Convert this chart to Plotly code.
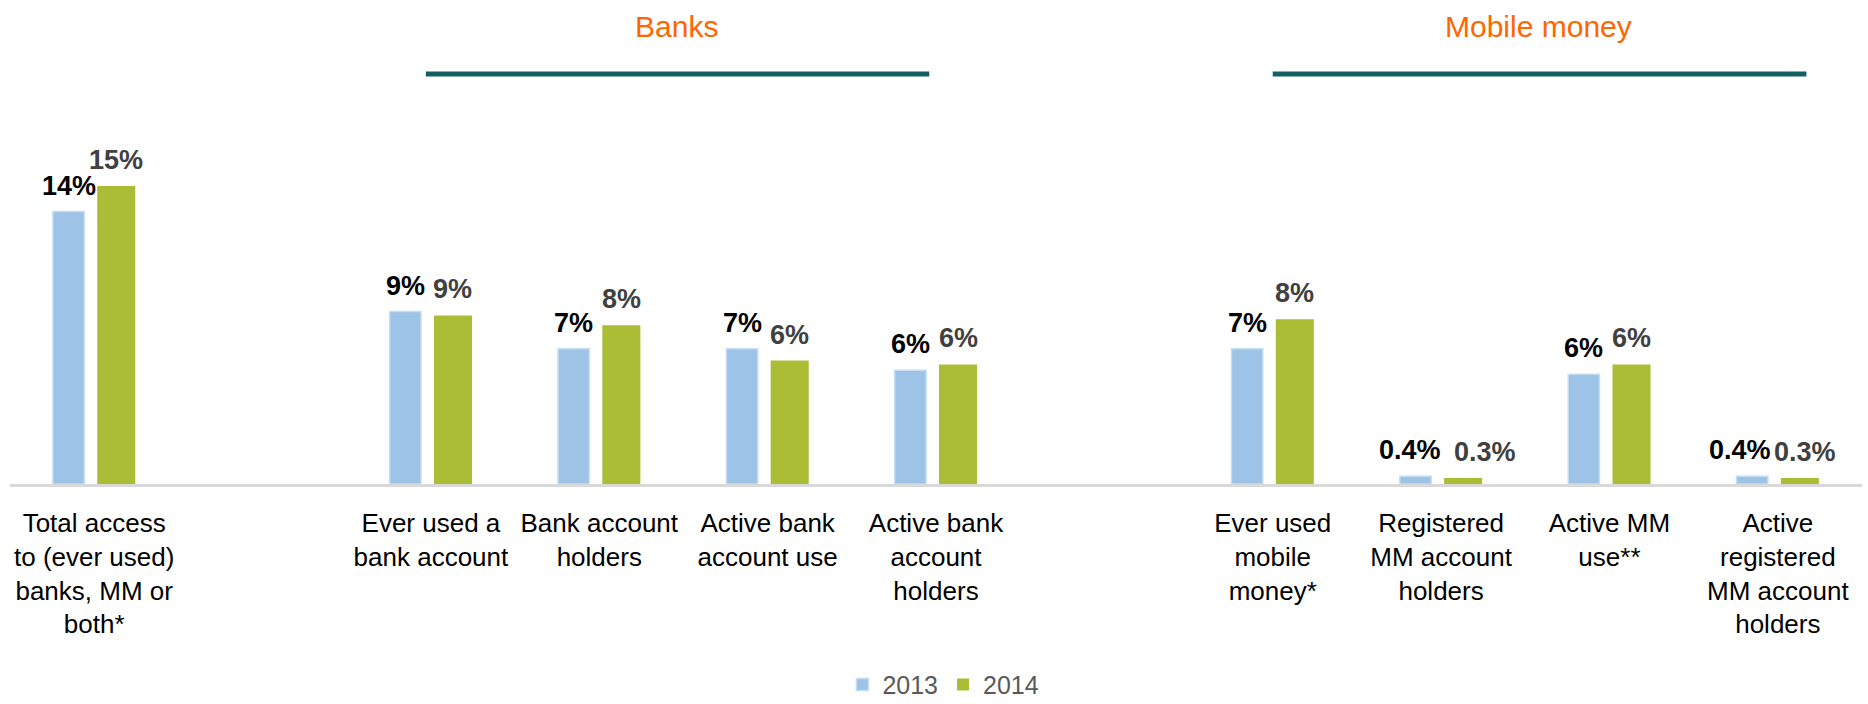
import plotly.graph_objects as go

# Categories (slot index on the x axis; empty slots separate the groups)
categories = [
    "Total access<br>to (ever used)<br>banks, MM or<br>both*",
    "Ever used a<br>bank account",
    "Bank account<br>holders",
    "Active bank<br>account use",
    "Active bank<br>account<br>holders",
    "Ever used<br>mobile<br>money*",
    "Registered<br>MM account<br>holders",
    "Active MM<br>use**",
    "Active<br>registered<br>MM account<br>holders",
]
slots = [0, 2, 3, 4, 5, 7, 8, 9, 10]

# Share of adults (%)
values_2013 = [13.9, 8.8, 6.9, 6.9, 5.8, 6.9, 0.4, 5.6, 0.4]
values_2014 = [15.2, 8.6, 8.1, 6.3, 6.1, 8.4, 0.3, 6.1, 0.3]

series_names = ["2013", "2014"]
group_titles = ["Banks", "Mobile money"]

FONT = "Liberation Sans, Arial, sans-serif"
C2013 = "#9DC3E6"
C2014 = "#AABD35"

W13, OFF13 = 0.186, -0.245
W14, OFF14 = 0.226, 0.018


def fmt(v):
    return f"{v:.1f}%" if v < 1 else f"{v:.0f}%"


fig = go.Figure()
fig.add_trace(go.Bar(
    x=slots, y=values_2013, name=series_names[0],
    width=W13, offset=OFF13,
    marker=dict(color=C2013, line=dict(color="#C6DCF2", width=1.5)),
))
fig.add_trace(go.Bar(
    x=slots, y=values_2014, name=series_names[1],
    width=W14, offset=OFF14,
    marker=dict(color=C2014, line=dict(width=0)),
))

# Value labels above the bars; the tiny bars get nudged apart so labels don't collide
nudge_2013 = {8: -6, 10: -12}
nudge_2014 = {8: 22, 10: 5}
annotations = []
for s, v13, v14 in zip(slots, values_2013, values_2014):
    annotations.append(dict(
        x=s + OFF13 + W13 / 2, y=v13, xref="x", yref="y",
        text=fmt(v13), showarrow=False, yanchor="bottom", yshift=9,
        xshift=nudge_2013.get(s, 0),
        font=dict(family=FONT, size=27, color="#000000", weight="bold"),
    ))
    annotations.append(dict(
        x=s + OFF14 + W14 / 2, y=v14, xref="x", yref="y",
        text=fmt(v14), showarrow=False, yanchor="bottom", yshift=9,
        xshift=nudge_2014.get(s, 0),
        font=dict(family=FONT, size=27, color="#404040", weight="bold"),
    ))

# Group headers with underline bars
header_y = 1.168
rule_y = 1.046
for title, xc, x0, x1 in [(group_titles[0], 3.46, 1.97, 4.96),
                          (group_titles[1], 8.58, 7.0, 10.17)]:
    annotations.append(dict(
        x=xc, y=header_y, xref="x", yref="paper", text=title,
        showarrow=False, yanchor="middle",
        font=dict(family=FONT, size=30, color="#FF6600"),
    ))
    fig.add_shape(type="line", xref="x", yref="paper",
                  x0=x0, x1=x1, y0=rule_y, y1=rule_y,
                  line=dict(color="#135E63", width=5))

fig.update_layout(
    width=1868, height=704,
    margin=dict(l=10, r=6, t=92, b=220, autoexpand=False),
    paper_bgcolor="white", plot_bgcolor="white",
    barmode="overlay",
    font=dict(family=FONT),
    annotations=annotations,
    showlegend=True,
    legend=dict(
        orientation="h", x=0.504, xanchor="center", y=-0.512, yanchor="middle",
        font=dict(family=FONT, size=25, color="#595959"),
        itemwidth=30,
    ),
    xaxis=dict(
        range=[-0.5, 10.5], tickmode="array", tickvals=slots, ticktext=categories,
        showline=True, linecolor="#D9D9D9", linewidth=2.5,
        showgrid=False, zeroline=False, ticks="",
        ticklabelstandoff=14,
        tickfont=dict(family=FONT, size=26, color="#000000"),
    ),
    yaxis=dict(range=[0, 20], visible=False, showgrid=False, zeroline=False),
)

fig.write_html("out.html")
